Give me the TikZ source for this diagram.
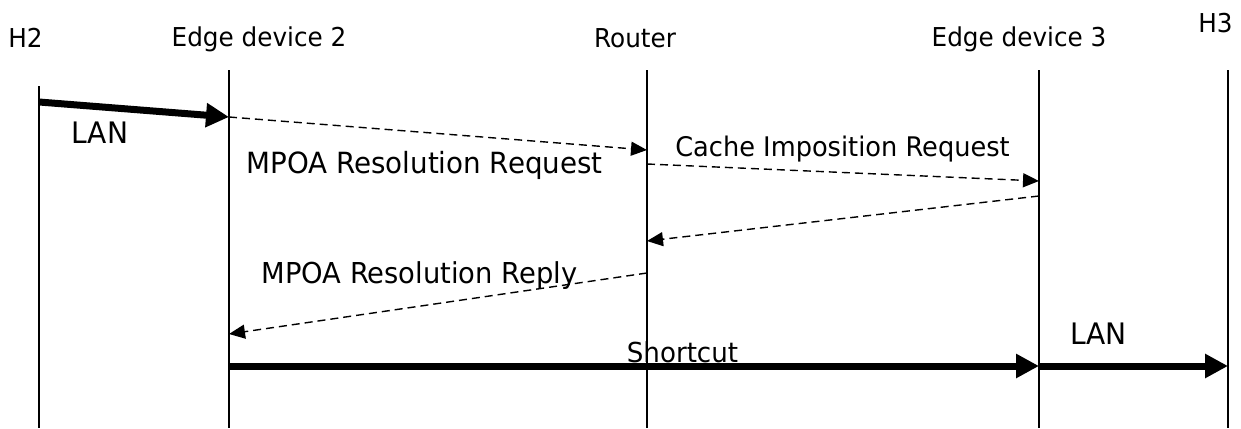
\documentclass[tikz,border=0pt]{standalone}
\usepackage{fontspec}
\setmainfont{DejaVu Sans}[FakeStretch=0.95]
\usetikzlibrary{arrows.meta}
\begin{document}
\begin{tikzpicture}[x=1pt,y=-1pt,
  life/.style={line width=1.4pt},
  msg/.style={line width=1.4pt, dash pattern=on 8pt off 5pt,
    -{Triangle[length=16pt,width=14pt]}},
  bulk/.style={line width=7pt, -{Triangle[length=23pt,width=23pt]}},
  head/.style={font=\fontsize{26}{30}\selectfont, inner sep=0pt, anchor=base},
  lbl/.style={font=\fontsize{#1}{32}\selectfont, inner sep=0pt, anchor=base},
  lbl/.default=28.6]
\useasboundingbox (0,0) rectangle (1241,428);

% lifelines
\coordinate (h2t) at (39,86);    \coordinate (h2b) at (39,428);
\coordinate (e2t) at (229,70);   \coordinate (e2b) at (229,428);
\coordinate (rt)  at (647,70);   \coordinate (rb)  at (647,428);
\coordinate (e3t) at (1039,70);  \coordinate (e3b) at (1039,428);
\coordinate (h3t) at (1228,70);  \coordinate (h3b) at (1228,428);
\foreach \a/\b in {h2t/h2b, e2t/e2b, rt/rb, e3t/e3b, h3t/h3b}
  \draw[life] (\a) -- (\b);

% participant names
\node[head] (nh2) at (25.5,48) {H2};
\node[head] (ne2) at (259,47) {Edge device 2};
\node[head] (nr)  at (635,48) {Router};
\node[head] (ne3) at (1019,47) {Edge device 3};
\node[head] (nh3) at (1215.5,33) {H3};

% message end points on the lifelines
\coordinate (m1a) at (39,102);   \coordinate (m1b) at (229,117);
\coordinate (m2a) at (229,117);  \coordinate (m2b) at (647,150);
\coordinate (m3a) at (647,164);  \coordinate (m3b) at (1039,181);
\coordinate (m4a) at (1039,196); \coordinate (m4b) at (647,241);
\coordinate (m5a) at (647,273);  \coordinate (m5b) at (229,334);
\coordinate (m6a) at (229,366);  \coordinate (m6b) at (1039,366);
\coordinate (m7a) at (1039,366); \coordinate (m7b) at (1228,366);

% messages
\draw[bulk] (m1a) -- (m1b);
\draw[msg]  (m2a) -- (m2b);
\draw[msg]  (m3a) -- (m3b);
\draw[msg]  (m4a) -- (m4b);
\draw[msg]  (m5a) -- (m5b);
\draw[bulk] (m6a) -- (m6b);
\draw[bulk] (m7a) -- (m7b);

% message labels
\node[lbl=29.6] (l1) at (100,143) {LAN};
\node[lbl=29.2] (l2) at (424.5,173) {MPOA Resolution Request};
\node[lbl=27]   (l3) at (842.5,156) {Cache Imposition Request};
\node[lbl=28.8] (l5) at (419.5,283) {MPOA Resolution Reply};
\node[lbl=27.5] (l6) at (682.5,362) {Shortcut};
\node[lbl=29.6] (l7) at (1098.5,344) {LAN};
\end{tikzpicture}
\end{document}
